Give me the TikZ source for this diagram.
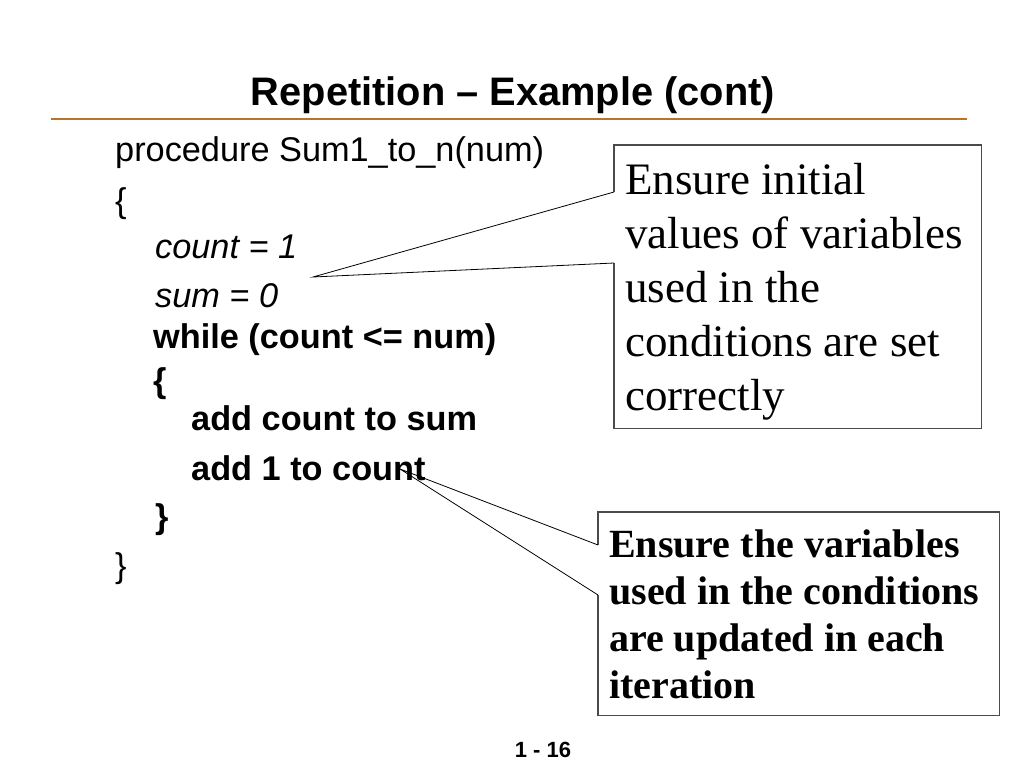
\documentclass[tikz,border=0pt]{standalone}
\usepackage{fontspec}
\setmainfont{Liberation Serif}
\setsansfont{Liberation Sans}
\usetikzlibrary{positioning}
\definecolor{rulecol}{RGB}{184,115,44}
\definecolor{framecol}{RGB}{75,75,75}

\tikzset{
  code/.style={anchor=base west, inner sep=0pt, font=\sffamily\fontsize{34.3}{40}\selectfont},
  codeit/.style={code, font=\sffamily\itshape\fontsize{34.3}{40}\selectfont},
  codebf/.style={code, font=\sffamily\bfseries\fontsize{34.3}{40}\selectfont},
  note/.style={anchor=north west, inner sep=0pt, align=left},
  box/.style={anchor=north west, inner sep=0pt},
  frame/.style={draw=framecol, line width=1.3pt, line join=miter},
  pointer/.style={draw=black, line width=0.8pt, line join=miter},
}

\begin{document}
\begin{tikzpicture}[x=1pt, y=-1pt]
\fill [white] (0,0) rectangle (1024,768);
\useasboundingbox (0,0) rectangle (1024,768);
% title and rule
\node (title) [anchor=base, inner sep=0pt, font=\sffamily\bfseries\fontsize{39.8}{47}\selectfont] at (513,105) {Repetition -- Example (cont)};
\draw [rulecol, line width=1.2pt] (51,119) -- (967,119);
% code
\node (l1) [code] at (115,161) {procedure Sum1\_to\_n(num)};
\node (l2) [code] at (115,212) {\{};
\node (l3) [codeit] at (155,258) {count = 1};
\node (l4) [codeit] at (155,307) {sum = 0};
\node (l5) [codebf] at (153,348) {while (count <= num)};
\node (l6) [codebf] at (153,392) {\{};
\node (l7) [codebf] at (191,430) {add count to sum};
\node (l8) [codebf] at (191,480) {add 1 to count};
\node (l9) [codebf] at (155,528) {\}};
\node (l10) [code] at (115,577) {\}};
% first callout
\node (box1) [box, minimum width=367pt, minimum height=283pt] at (614,145) {};
\node (t1) [note, font=\rmfamily\fontsize{45}{54}\selectfont] at (625,163) {Ensure initial\\values of variables\\used in the\\conditions are set\\correctly};
\coordinate (a1up) at (614,192);
\coordinate (a1low) at (614,263);
\coordinate (tip1) at (313,277);
\draw [frame] (a1up) -- (box1.north west) -- (box1.north east) -- (box1.south east) -- (box1.south west) -- (a1low);
\draw [pointer] (a1up) -- (tip1) -- (a1low);
% second callout
\node (box2) [box, minimum width=401pt, minimum height=203pt] at (598,512) {};
\node (t2) [note, font=\rmfamily\bfseries\fontsize{40}{47}\selectfont] at (609,530) {Ensure the variables\\used in the conditions\\are updated in each\\iteration};
\coordinate (a2up) at (598,545);
\coordinate (a2low) at (598,595);
\coordinate (tip2) at (400,469);
\draw [frame] (a2up) -- (box2.north west) -- (box2.north east) -- (box2.south east) -- (box2.south west) -- (a2low);
\draw [pointer] (a2up) -- (tip2) -- (a2low);
% page number
\node (page) [anchor=base, inner sep=0pt, font=\sffamily\bfseries\fontsize{22}{26}\selectfont] at (543,757) {1 - 16};
\end{tikzpicture}
\end{document}
